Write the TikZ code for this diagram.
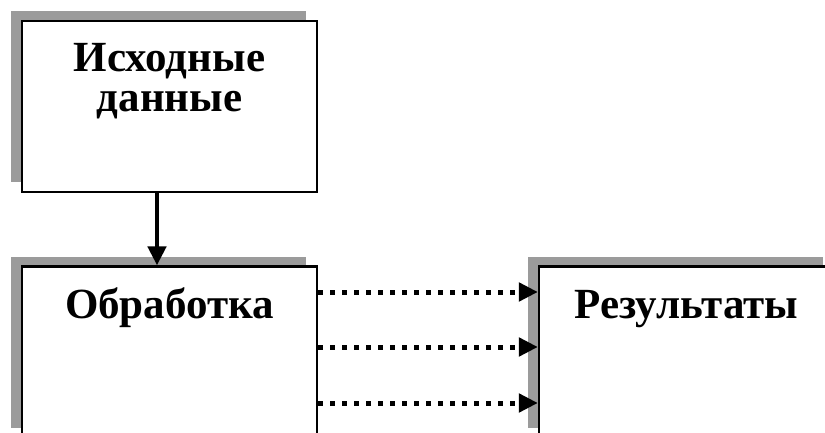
\documentclass[tikz,border=0pt]{standalone}
\usepackage{fontspec}
\setmainfont{Liberation Serif}
\usetikzlibrary{arrows.meta}
\usetikzlibrary{shadows}
\usetikzlibrary{positioning}

\definecolor{shadowgray}{RGB}{155,155,155}

\begin{document}
\begin{tikzpicture}
    [   x = 1pt, y = 1pt
    ,   > = {Triangle[length=19pt, width=18pt]}
    ,   block/.style = {draw, line width = 2.2pt, fill = white,
            minimum width = 295pt, minimum height = 171pt, inner sep = 0pt,
            general shadow = {fill = shadowgray, shadow xshift = -11pt, shadow yshift = 10pt}}
    ,   title/.style = {font = \fontsize{43}{40}\selectfont\bfseries,
            align = center, inner sep = 0pt}
    ,   flow/.style = {line width = 5pt, dash pattern = on 5pt off 7pt}
    ]
    \useasboundingbox (0,0) rectangle (825,432);
    \clip (0,0) rectangle (825,432);

    % the three boxes
    \node[block] (in) at (169.5,325.5) {};
    \node[block] (proc) at (169.5,80) {};
    \node[block] (res) at (686.5,80) {};

    \node[title, anchor = base] (inT) at (169.5,320) {Исходные\\данные};
    \node[title, anchor = base] (procT) at (169.5,114) {Обработка};
    \node[title, anchor = base] (resT) at (686.5,114) {Результаты};

    % input goes into processing
    \draw[->, line width = 4.5pt] ([xshift = -12.5pt]in.south) -- ([xshift = -12.5pt]proc.north);

    % results
    \foreach \dy in {60,5,-51}
    {
        \draw[->, flow] ([yshift = \dy pt]proc.east) -- ([yshift = \dy pt]proc.east -| res.west);
    }
\end{tikzpicture}
\end{document}
